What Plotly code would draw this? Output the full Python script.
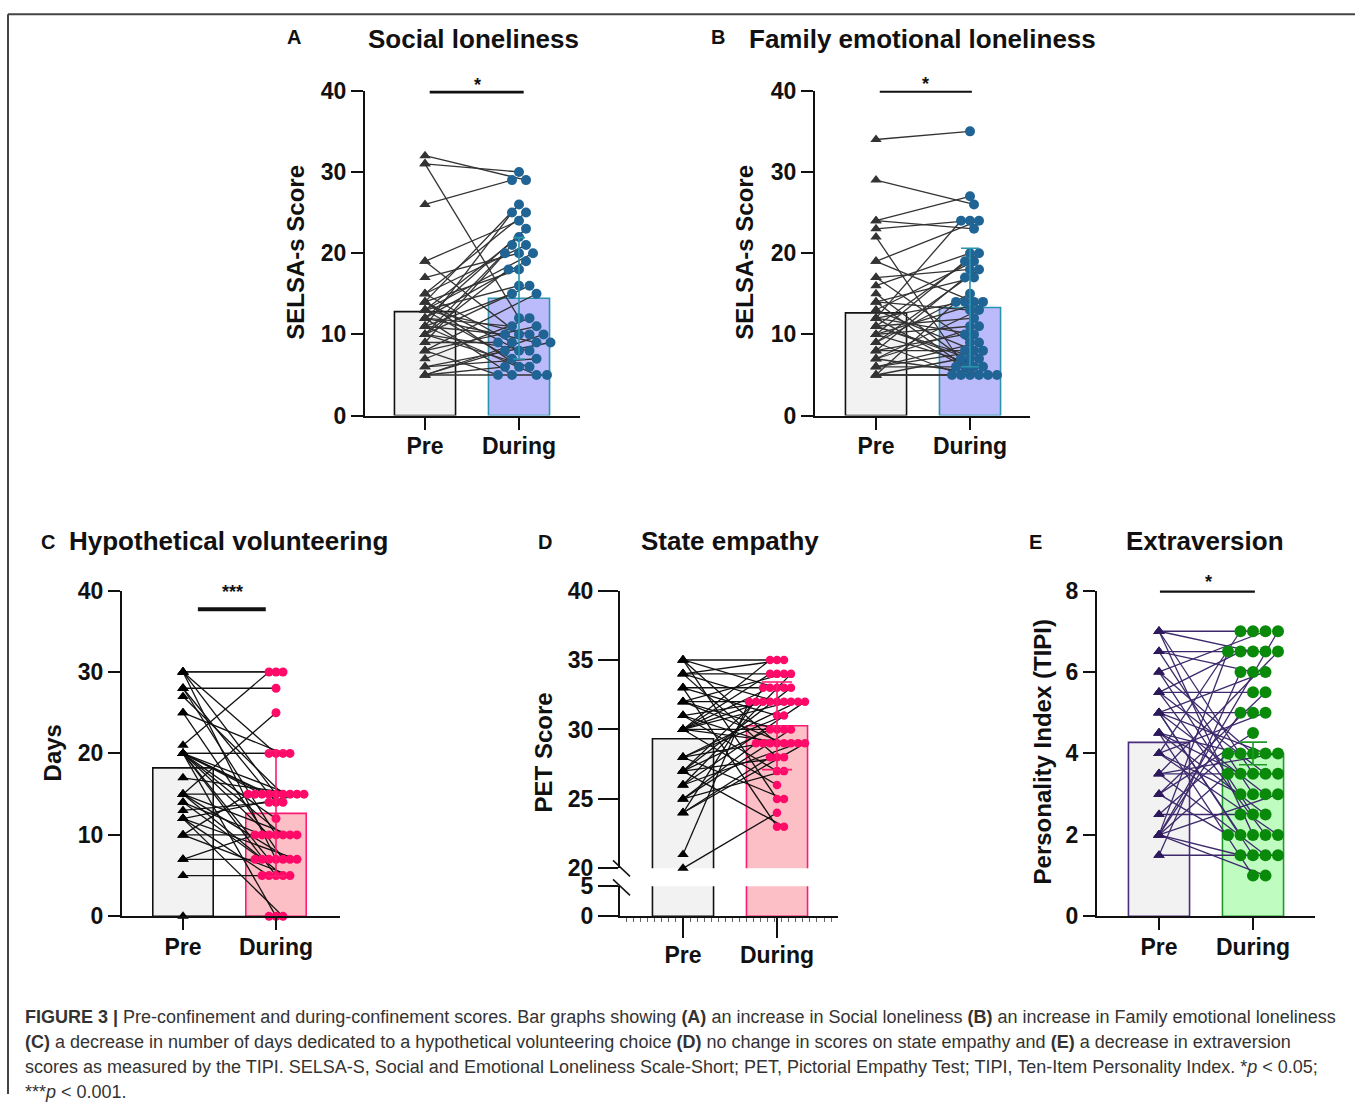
import numpy as np
import plotly.graph_objects as go

W, H = 1355, 1107
FONT = "Liberation Sans, Arial, Helvetica, sans-serif"

# ---------------- DATA (paired: index i = same participant) ----------------
categories = ["Pre", "During"]

A_pre = [32, 31, 31, 26, 19, 19, 17, 15, 15, 15, 14, 14, 14, 14, 13, 13, 13, 13, 13, 12, 12, 12, 12, 12,
         11, 11, 11, 11, 10, 10, 10, 10, 10, 9, 9, 8, 8, 8, 7, 6, 6, 5, 5, 5, 5]
A_during = [29, 30, 12, 29, 24, 10, 20, 25, 9, 21, 26, 8, 18, 6, 22, 10, 16, 7, 20, 5, 23, 11, 9, 19, 25,
            5, 15, 10, 21, 8, 16, 6, 18, 20, 9, 15, 5, 11, 12, 9, 7, 10, 8, 6, 5]

B_pre = [34, 29, 24, 24, 23, 22, 19, 19, 17, 17, 16, 15, 14, 14, 14, 13, 13, 12, 12, 12, 12, 11, 11, 11, 11,
         10, 10, 10, 10, 9, 9, 9, 8, 8, 8, 7, 7, 7, 6, 6, 6, 5, 5, 5, 5]
B_during = [35, 26, 27, 23, 24, 5, 24, 14, 18, 9, 20, 6, 17, 13, 6, 19, 8, 24, 10, 14, 5, 20, 12, 7, 7,
            19, 11, 14, 6, 18, 5, 15, 17, 10, 8, 13, 11, 5, 9, 8, 6, 14, 7, 5, 5]

C_pre = [30, 30, 30, 30, 30, 28, 28, 28, 27, 25, 25, 21, 20, 20, 20, 20, 20, 20, 20, 20, 20, 20, 20, 20,
         17, 15, 15, 15, 15, 15, 14, 14, 13, 12, 12, 12, 12, 10, 10, 10, 7, 7, 5, 0]
C_during = [30, 30, 20, 15, 7, 28, 14, 10, 15, 20, 7, 30, 20, 20, 15, 15, 10, 10, 7, 5, 14, 0, 15, 12,
            15, 25, 10, 7, 5, 15, 10, 7, 14, 15, 5, 7, 0, 10, 15, 5, 10, 7, 5, 0]

D_pre = [35, 35, 35, 35, 34, 34, 34, 34, 33, 33, 33, 32, 32, 32, 32, 31, 31, 31, 30, 30, 30, 30, 30, 30,
         30, 30, 28, 28, 28, 28, 27, 27, 27, 27, 27, 26, 26, 26, 25, 25, 25, 24, 24, 24, 21, 20]
D_during = [35, 29, 33, 25, 34, 32, 35, 28, 33, 31, 23, 34, 32, 29, 30, 32, 27, 29, 35, 32, 30, 33, 29, 26,
            32, 34, 32, 29, 25, 31, 33, 30, 28, 23, 32, 32, 29, 34, 29, 27, 30, 33, 28, 29, 32, 24]

E_pre = [7, 7, 7, 7, 6.5, 6.5, 6.5, 6, 6, 6, 5.5, 5.5, 5.5, 5.5, 5, 5, 5, 5, 5, 5, 4.5, 4.5, 4.5, 4.5,
         4, 4, 4, 4, 3.5, 3.5, 3.5, 3.5, 3, 3, 3, 2.5, 2.5, 2, 2, 2, 2, 2, 2, 2, 1.5, 1.5]
E_during = [7, 6.5, 3.5, 2, 6.5, 3, 6, 2.5, 7, 4, 5.5, 2, 6.5, 3.5, 5, 4, 1.5, 3, 2, 6, 4, 2.5, 1, 3.5,
            7, 3, 5, 2, 3.5, 6.5, 4, 1.5, 5.5, 2, 4.5, 2.5, 4, 6.5, 5, 1.5, 3.5, 7, 3, 1, 1.5, 6]

A_ticks = [0, 10, 20, 30, 40]
C_ticks = [0, 10, 20, 30, 40]
D_ticks_upper = [20, 25, 30, 35, 40]
D_ticks_lower = [0, 5]
E_ticks = [0, 2, 4, 6, 8]

# ---------------- helpers ----------------
# the captured page is offset/compressed vertically; positions below are target picture pixels
Y_OFF, Y_SC = 12.2, 0.977


def X(p):
    return p / W


def Y(p):
    yf = (p - Y_OFF) / Y_SC
    return 1 - yf / H


def swarm(vals, ypx, xpx, sep):
    vals = np.asarray(vals, float)
    order = np.argsort(-vals, kind="stable")
    placed = []
    off = np.zeros(len(vals))
    for i in order:
        yy = vals[i] * ypx
        k = 0
        found = None
        while found is None:
            cands = [0.0] if k == 0 else [k * 0.5, -k * 0.5]
            for c in cands:
                if all((c - a) ** 2 + (yy - b) ** 2 >= sep ** 2 - 1e-6 for a, b in placed):
                    found = c
                    break
            k += 1
        placed.append((found, yy))
        off[i] = found / xpx
    return off


fig = go.Figure()
layout = {}

panels = [
    dict(n="", pre=A_pre, dur=A_during, xd=(365, 580), yd=(90, 415), xc=(425, 519), yr=(0, 40), tv=A_ticks,
         pre_edge="#111111", dur_fill="#bbbbfb", dur_edge="#2a95ad", tri="#333333", dot="#1f6494",
         line="#333333", sep=10.5, dsize=10, err="sd", capw=6),
    dict(n="2", pre=B_pre, dur=B_during, xd=(815, 1030), yd=(90, 415), xc=(876, 970), yr=(0, 40), tv=A_ticks,
         pre_edge="#111111", dur_fill="#bbbbfb", dur_edge="#2a95ad", tri="#333333", dot="#1f6494",
         line="#333333", sep=9, dsize=10, err="sd", capw=9),
    dict(n="3", pre=C_pre, dur=C_during, xd=(122, 340), yd=(590, 916), xc=(183, 276), yr=(0, 40), tv=C_ticks,
         pre_edge="#111111", dur_fill="#fdbfc6", dur_edge="#ff1a72", tri="#000000", dot="#ff0a68",
         line="#111111", sep=6.8, dsize=9, err="sd", capw=9),
    dict(n="5", pre=E_pre, dur=E_during, xd=(1097, 1315), yd=(590, 916), xc=(1159, 1253), yr=(0, 8), tv=E_ticks,
         pre_edge="#4a2d7c", dur_fill="#bffcbf", dur_edge="#1f9a2a", tri="#2d1a5c", dot="#0a8a0a",
         line="#3d2a6c", sep=12.5, dsize=12, err="sem", capw=14),
]

AXCOL = "#111111"
tickfont = dict(family=FONT, size=23, color="#111111", weight="bold")


def add_panel(p, xa, ya, bar_axes=None):
    pre = np.asarray(p["pre"], float)
    dur = np.asarray(p["dur"], float)
    xpx = p["xc"][1] - p["xc"][0]
    y0, y1 = p["yr"]
    ypx = (p["yd"][1] - p["yd"][0]) / (y1 - y0)
    off = swarm(dur - y0, ypx, xpx, p["sep"])
    xd = 1 + off
    m_pre, m_dur = pre.mean(), dur.mean()
    e = dur.std() if p["err"] == "sd" else dur.std() / np.sqrt(len(dur))
    bar_targets = bar_axes or [(xa, ya)]
    for bx, by in bar_targets:
        fig.add_trace(go.Bar(x=[0], y=[m_pre], width=0.65, xaxis=bx, yaxis=by,
                             marker=dict(color="#f2f2f2", line=dict(color=p["pre_edge"], width=1.6)),
                             showlegend=False, hoverinfo="skip"))
        fig.add_trace(go.Bar(x=[1], y=[m_dur], width=0.65, xaxis=bx, yaxis=by,
                             marker=dict(color=p["dur_fill"], line=dict(color=p["dur_edge"], width=1.6)),
                             showlegend=False, hoverinfo="skip"))
    lx, ly = [], []
    for i in range(len(pre)):
        lx += [0, xd[i], None]
        ly += [pre[i], dur[i], None]
    fig.add_trace(go.Scatter(x=lx, y=ly, mode="lines", line=dict(color=p["line"], width=1.3),
                             xaxis=xa, yaxis=ya, showlegend=False, cliponaxis=False, hoverinfo="skip"))
    fig.add_trace(go.Scatter(x=np.zeros(len(pre)), y=pre, mode="markers",
                             marker=dict(symbol="triangle-up", size=10, color=p["tri"]),
                             xaxis=xa, yaxis=ya, showlegend=False, cliponaxis=False))
    fig.add_trace(go.Scatter(x=xd, y=dur, mode="markers",
                             marker=dict(symbol="circle", size=p["dsize"], color=p["dot"]),
                             xaxis=xa, yaxis=ya, showlegend=False, cliponaxis=False))
    fig.add_trace(go.Scatter(x=[1], y=[m_dur], mode="markers", marker=dict(size=1, color="rgba(0,0,0,0)"),
                             error_y=dict(type="data", array=[e], color=p["dur_edge"], thickness=1.6,
                                          width=p["capw"]),
                             xaxis=xa, yaxis=ya, showlegend=False, cliponaxis=False, hoverinfo="skip"))


def xr(p):
    xpx = p["xc"][1] - p["xc"][0]
    return [(p["xd"][0] - p["xc"][0]) / xpx, (p["xd"][1] - p["xc"][0]) / xpx]


def set_axes(n, p, ticklen_y=12, ticklen_x=12, show_x=True, yrange=None, ydom=None, tv=None):
    xk, yk = "xaxis" + n, "yaxis" + n
    layout[xk] = dict(domain=[X(p["xd"][0]), X(p["xd"][1])], range=xr(p), anchor="y" + n,
                      showgrid=False, zeroline=False, showline=show_x, linecolor=AXCOL, linewidth=2,
                      tickvals=[0, 1], ticktext=categories if show_x else ["", ""],
                      ticks="outside" if show_x else "", ticklen=ticklen_x, tickwidth=2, tickcolor=AXCOL,
                      tickfont=tickfont, showticklabels=show_x, fixedrange=True, ticklabelstandoff=-3)
    yd = ydom or p["yd"]
    layout[yk] = dict(domain=[Y(yd[1]), Y(yd[0])], range=list(yrange or p["yr"]), anchor="x" + n,
                      showgrid=False, zeroline=False, showline=True, linecolor=AXCOL, linewidth=2,
                      tickvals=tv or p["tv"], ticks="outside", ticklen=ticklen_y, tickwidth=2,
                      tickcolor=AXCOL, tickfont=tickfont, fixedrange=True)


for p in panels:
    n = p["n"]
    add_panel(p, "x" + n, "y" + n)
    set_axes(n, p)

# Panel D (broken y axis): lower 0-5, upper 20-40
pD = dict(n="4", pre=D_pre, dur=D_during, xd=(620, 838), yd=(590, 868), xc=(683, 777), yr=(20, 40),
          tv=D_ticks_upper, pre_edge="#111111", dur_fill="#fdbfc6", dur_edge="#ff1a72", tri="#000000",
          dot="#ff0a68", line="#111111", sep=7, dsize=8.5, err="sd", capw=15)
add_panel(pD, "x6", "y6", bar_axes=[("x6", "y6"), ("x4", "y4")])
set_axes("4", pD, ticklen_y=20, ticklen_x=20, yrange=(0, 5), ydom=(886, 916), tv=D_ticks_lower)
set_axes("6", pD, ticklen_y=20, show_x=False)
layout["xaxis6"]["showline"] = False
layout["xaxis4"]["minor"] = dict(ticks="outside", ticklen=4, tickwidth=1, tickcolor="#666666",
                                 dtick=0.075, tick0=0, showgrid=False)

# ---------------- annotations ----------------
ann = []

def text(x, y, s, size, xanchor="center", angle=0, bold=True, color="#111111", yanchor="middle"):
    ann.append(dict(x=X(x), y=Y(y), xref="paper", yref="paper", text=("<b>%s</b>" % s) if bold else s,
                    showarrow=False, xanchor=xanchor, yanchor=yanchor, textangle=angle,
                    font=dict(family=FONT, size=size, color=color)))

# titles and letters
text(294, 36, "A", 20)
text(473, 38, "Social loneliness", 26)
text(718, 36, "B", 20)
text(922, 38, "Family emotional loneliness", 26)
text(48, 541, "C", 20)
text(229, 540, "Hypothetical volunteering", 26)
text(545, 541, "D", 20)
text(730, 540, "State empathy", 26)
text(1035, 541, "E", 20)
text(1205, 540, "Extraversion", 26)

# axis titles
text(296, 252, "SELSA-s Score", 24, angle=-90)
text(745, 252, "SELSA-s Score", 24, angle=-90)
text(52, 753, "Days", 24, angle=-90)
text(543, 752, "PET Score", 24, angle=-90)
text(1042, 752, "Personality Index (TIPI)", 24, angle=-90)

# significance stars
text(477, 84, "*", 18)
text(925, 83, "*", 18)
text(232, 591, "***", 18)
text(1208, 581, "*", 18)

# caption
cap_lines = [
    "<b>FIGURE 3 |</b> Pre-confinement and during-confinement scores. Bar graphs showing <b>(A)</b> an increase in Social loneliness <b>(B)</b> an increase in Family emotional loneliness",
    "<b>(C)</b> a decrease in number of days dedicated to a hypothetical volunteering choice <b>(D)</b> no change in scores on state empathy and <b>(E)</b> a decrease in extraversion",
    "scores as measured by the TIPI. SELSA-S, Social and Emotional Loneliness Scale-Short; PET, Pictorial Empathy Test; TIPI, Ten-Item Personality Index. *<i>p</i> &lt; 0.05;",
    "***<i>p</i> &lt; 0.001.",
]
for i, s in enumerate(cap_lines):
    text(23, 1017 + 25 * i, s, 18, xanchor="left", bold=False, color="#333333")

# ---------------- shapes ----------------
shapes = []
# frame (top edge as high as the capture allows)
shapes.append(dict(type="line", xref="paper", yref="paper", x0=X(8), x1=X(1355), y0=Y(13.4), y1=Y(13.4),
                   line=dict(color="#444444", width=2)))
shapes.append(dict(type="line", xref="paper", yref="paper", x0=X(8), x1=X(8), y0=Y(13.4), y1=0,
                   line=dict(color="#444444", width=2)))
# significance bars (data coords)
shapes.append(dict(type="line", xref="x", yref="y", x0=0.05, x1=1.05, y0=39.9, y1=39.9,
                   line=dict(color="#111111", width=4)))
shapes.append(dict(type="line", xref="x2", yref="y2", x0=0.04, x1=1.02, y0=40, y1=40,
                   line=dict(color="#111111", width=4)))
shapes.append(dict(type="line", xref="x3", yref="y3", x0=0.16, x1=0.89, y0=37.7, y1=37.7,
                   line=dict(color="#111111", width=4)))
shapes.append(dict(type="line", xref="x5", yref="y5", x0=0.01, x1=1.02, y0=8, y1=8,
                   line=dict(color="#111111", width=4.5)))
# axis break marks (panel D)
for (x0, y0, x1, y1) in [(613, 860, 630, 876), (613, 879, 630, 895)]:
    shapes.append(dict(type="line", xref="paper", yref="paper", x0=X(x0), y0=Y(y0), x1=X(x1), y1=Y(y1),
                       line=dict(color="#111111", width=1.5)))

fig.update_layout(width=W, height=H, autosize=False, margin=dict(l=0, r=0, t=0, b=0),
                  paper_bgcolor="white", plot_bgcolor="rgba(0,0,0,0)", barmode="overlay",
                  showlegend=False, annotations=ann, shapes=shapes, **layout)

post = ("var gd=document.getElementById('{plot_id}');"
        "document.documentElement.style.margin='0';document.body.style.margin='0';"
        "document.body.style.padding='0';"
        "gd.style.position='absolute';gd.style.top='0px';gd.style.left='0px';"
        "document.documentElement.style.overflow='hidden';document.body.style.overflow='hidden';")

fig.write_html("out.html", config={"displayModeBar": False}, post_script=post)
